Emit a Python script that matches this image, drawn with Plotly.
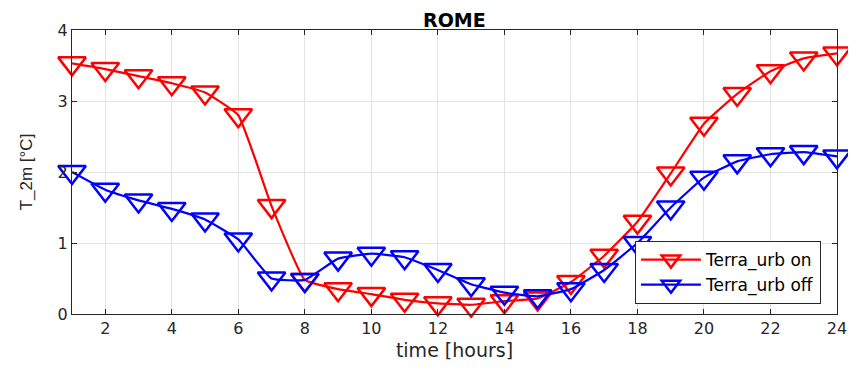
import plotly.graph_objects as go

hours = list(range(1, 25))
terra_on = [3.53, 3.45, 3.35, 3.25, 3.12, 2.80, 1.52, 0.48, 0.35, 0.28, 0.20, 0.15,
            0.13, 0.18, 0.22, 0.45, 0.82, 1.30, 1.98, 2.68, 3.10, 3.42, 3.60, 3.67]
terra_off = [2.00, 1.75, 1.60, 1.48, 1.33, 1.05, 0.50, 0.48, 0.78, 0.85, 0.80, 0.62,
             0.42, 0.30, 0.25, 0.35, 0.62, 1.00, 1.50, 1.92, 2.15, 2.25, 2.28, 2.22]
x_ticks = list(range(2, 25, 2))
y_ticks = [0, 1, 2, 3, 4]

WIDE = "DejaVu Sans, Verdana, sans-serif"
NARROW = "Liberation Sans, Arial, Helvetica"

fig = go.Figure()
for name, vals, col in [("Terra_urb on", terra_on, "#ff0000"),
                        ("Terra_urb off", terra_off, "#0000ff")]:
    fig.add_trace(go.Scatter(
        x=hours, y=vals, name=name, mode="lines+markers",
        line=dict(color=col, width=2.2, shape="spline", smoothing=0.35),
        marker=dict(symbol="triangle-down-open", size=24, color=col,
                    line=dict(color=col, width=2.5)),
        cliponaxis=False,
    ))

axis_common = dict(
    showline=True, linecolor="#262626", linewidth=1, mirror="ticks",
    ticks="inside", ticklen=5, tickcolor="#262626",
    showgrid=True, gridcolor="#e3e3e3", gridwidth=1, zeroline=False,
    tickfont=dict(family=WIDE, size=16, color="#262626"),
)
fig.update_xaxes(range=[1, 24], tickvals=x_ticks, **axis_common,
                 title=dict(text="time [hours]", standoff=6,
                            font=dict(family=WIDE, size=19, color="#262626")))
fig.update_yaxes(range=[0, 4], tickvals=y_ticks, **axis_common,
                 title=dict(text="T_2m [°C]", standoff=20,
                            font=dict(family=NARROW, size=17, color="#262626")))

# page body has an 8px margin; the figure is sized so the plot area lands where the reference has it
fig.update_layout(
    width=848, height=363,
    margin=dict(l=64, r=19, t=22, b=57, autoexpand=False),
    paper_bgcolor="white", plot_bgcolor="white",
    title=dict(text="<b>ROME</b>", x=(64 + 764.7 / 2) / 848, xanchor="center", y=0.985, yanchor="top",
               font=dict(family=WIDE, size=19, color="black")),
    legend=dict(x=0.979, xanchor="right", y=0.035, yanchor="bottom",
                bordercolor="#262626", borderwidth=1, bgcolor="white",
                font=dict(family=WIDE, size=17, color="black"),
                tracegroupgap=0, itemwidth=60),
    showlegend=True,
)

fig.write_html("out.html")
